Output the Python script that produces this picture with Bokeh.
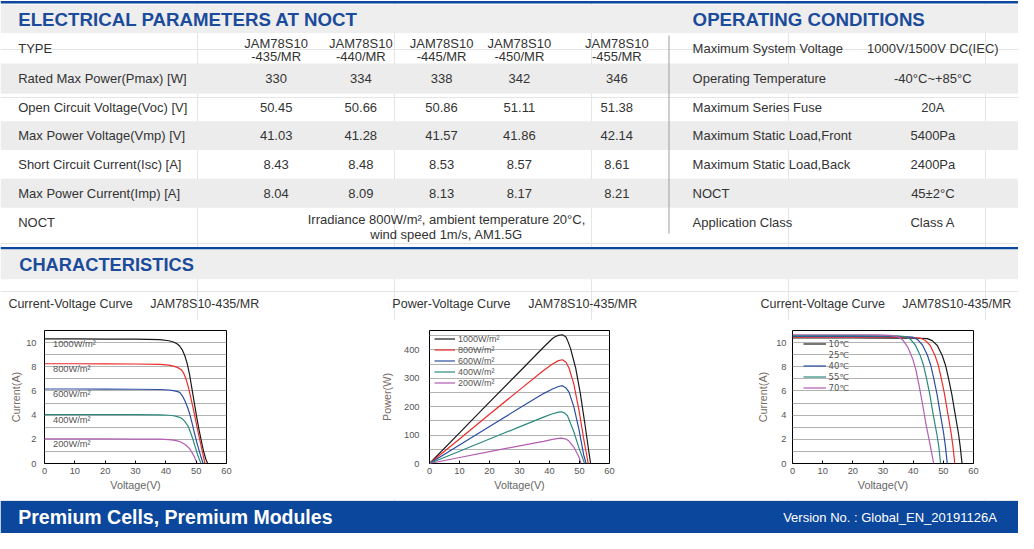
from bokeh.plotting import figure
from bokeh.models import ColumnDataSource, Range1d, FixedTicker, Legend, LegendItem
from bokeh.layouts import column, row
from bokeh.embed import file_html
from bokeh.resources import INLINE
from bokeh.core.properties import value

# ---------------- data ----------------
model_prefix = "JAM78S10"
model_suffixes = ["-435/MR", "-440/MR", "-445/MR", "-450/MR", "-455/MR"]
param_labels = ["Rated Max Power(Pmax) [W]", "Open Circuit Voltage(Voc) [V]",
                "Max Power Voltage(Vmp) [V]", "Short Circuit Current(Isc) [A]",
                "Max Power Current(Imp) [A]"]
pmax = ["330", "334", "338", "342", "346"]
voc = ["50.45", "50.66", "50.86", "51.11", "51.38"]
vmp = ["41.03", "41.28", "41.57", "41.86", "42.14"]
isc = ["8.43", "8.48", "8.53", "8.57", "8.61"]
imp = ["8.04", "8.09", "8.13", "8.17", "8.21"]
noct_text = ["Irradiance 800W/m\u00b2, ambient temperature 20\u00b0C,", "wind speed 1m/s, AM1.5G"]
cond_labels = ["Maximum System Voltage", "Operating Temperature", "Maximum Series Fuse",
               "Maximum Static Load,Front", "Maximum Static Load,Back", "NOCT", "Application Class"]
cond_values = ["1000V/1500V DC(IEC)", "-40\u00b0C~+85\u00b0C", "20A", "5400Pa", "2400Pa",
               "45\u00b12\u00b0C", "Class A"]
chart_titles = ["Current-Voltage Curve", "Power-Voltage Curve", "Current-Voltage Curve"]
chart_model = "JAM78S10-435/MR"

irr_labels = ["1000W/m\u00b2", "800W/m\u00b2", "600W/m\u00b2", "400W/m\u00b2", "200W/m\u00b2"]
temp_labels = ["10\u2103", "25\u2103", "40\u2103", "55\u2103", "70\u2103"]

# I-V by irradiance
iv1000_v = [0, 10, 20, 30, 38, 41, 42.5, 43.8, 44.6, 45.4, 46.2, 47.0, 47.8, 48.6, 49.4, 50.2, 51.1, 51.8, 52.5, 53.2, 53.8]
iv1000_i = [10.3, 10.3, 10.29, 10.28, 10.24, 10.15, 10.05, 9.88, 9.7, 9.4, 8.95, 8.3, 7.4, 6.2, 5.0, 3.8, 2.6, 1.75, 0.95, 0.35, 0]
iv800_v = [0, 10, 20, 30, 38, 41, 42.5, 43.8, 45.1, 45.9, 46.7, 47.5, 48.3, 49.2, 50.0, 50.8, 51.6, 52.3, 52.9]
iv800_i = [8.25, 8.25, 8.24, 8.23, 8.2, 8.13, 8.05, 7.95, 7.76, 7.45, 6.96, 6.25, 5.36, 4.35, 3.36, 2.4, 1.5, 0.7, 0]
iv600_v = [0, 10, 20, 30, 38, 41, 42.5, 43.6, 44.6, 45.4, 46.2, 47.0, 47.8, 48.6, 49.4, 50.2, 51.1, 51.7, 52.3]
iv600_i = [6.16, 6.16, 6.15, 6.14, 6.12, 6.08, 6.03, 5.97, 5.88, 5.62, 5.23, 4.75, 4.16, 3.4, 2.56, 1.75, 0.96, 0.45, 0]
iv400_v = [0, 10, 20, 30, 38, 41, 42.5, 43.8, 45.1, 46.2, 47.3, 48.1, 48.9, 49.7, 50.5, 51.1, 51.6]
iv400_i = [4.05, 4.05, 4.04, 4.04, 4.02, 3.99, 3.95, 3.88, 3.76, 3.5, 3.1, 2.6, 2.03, 1.35, 0.7, 0.3, 0]
iv200_v = [0, 10, 20, 30, 38, 41, 42.5, 43.8, 45.1, 46.5, 47.8, 48.6, 49.4, 49.9, 50.3]
iv200_i = [2.03, 2.03, 2.03, 2.02, 2.01, 1.98, 1.94, 1.87, 1.76, 1.55, 1.23, 0.92, 0.56, 0.27, 0]

# P-V by irradiance
pv1000_v = [0, 10, 20, 30, 38, 41, 42, 43, 44.3, 45.5, 46.2, 47, 48.7, 50.3, 51.9, 53, 53.7]
pv1000_p = [0, 108, 216, 323, 409, 440, 447, 451, 453, 445, 428, 405, 337, 245, 132, 50, 0]
pv800_v = [0, 10, 20, 30, 38, 41, 43, 44.3, 45.5, 46.5, 48.1, 49.8, 51.4, 52.9]
pv800_p = [0, 86, 173, 259, 327, 350, 362, 365, 356, 336, 280, 189, 87, 0]
pv600_v = [0, 10, 20, 30, 38, 41, 43, 44.3, 45.5, 46.5, 48.1, 49.8, 51.4, 52.2]
pv600_p = [0, 65, 130, 195, 246, 262, 271, 274, 266, 251, 200, 121, 30, 0]
pv400_v = [0, 10, 20, 30, 38, 41, 43, 44, 45, 46, 48.1, 49.8, 51.7]
pv400_p = [0, 43, 86, 129, 163, 175, 181, 182, 178, 168, 112, 55, 0]
pv200_v = [0, 10, 20, 30, 38, 41, 43, 44, 45.5, 46.5, 48.1, 49.8, 50.5]
pv200_p = [0, 21, 42, 62, 78, 85, 88.5, 89, 86, 79, 58, 24, 0]

# I-V by temperature
t10_v = [0, 20, 35, 42, 44.7, 46.3, 48.0, 49.6, 50.7, 51.7, 52.8, 53.9, 55.0, 55.6, 56.2]
t10_i = [10.38, 10.38, 10.37, 10.36, 10.33, 10.16, 9.76, 8.95, 8.15, 7.07, 5.73, 4.11, 2.5, 1.4, 0]
t25_v = [0, 20, 35, 39.6, 42.3, 43.9, 45.6, 47.2, 48.3, 49.3, 50.4, 51.5, 52.6, 53.2, 53.8]
t25_i = [10.45, 10.45, 10.43, 10.42, 10.38, 10.2, 9.78, 8.96, 8.15, 7.07, 5.73, 4.11, 2.5, 1.4, 0]
t40_v = [0, 20, 32, 37.2, 39.8, 41.4, 43.1, 44.7, 45.8, 46.8, 47.9, 49.0, 50.1, 50.7, 51.3]
t40_i = [10.52, 10.52, 10.5, 10.49, 10.45, 10.26, 9.8, 8.97, 8.15, 7.07, 5.73, 4.11, 2.5, 1.4, 0]
t55_v = [0, 20, 30, 34.8, 37.4, 39.0, 40.7, 42.3, 43.4, 44.4, 45.5, 46.6, 47.8, 48.5, 49.1]
t55_i = [10.58, 10.58, 10.56, 10.55, 10.5, 10.3, 9.8, 8.96, 8.15, 7.07, 5.73, 4.11, 2.5, 1.4, 0]
t70_v = [0, 20, 28, 32.4, 34.9, 36.6, 38.2, 39.8, 40.9, 42.0, 43.1, 44.2, 45.5, 46.8]
t70_i = [10.65, 10.65, 10.63, 10.6, 10.5, 10.2, 9.63, 8.69, 7.74, 6.4, 4.92, 3.31, 1.69, 0]

# ---------------- style ----------------
FONT = "Liberation Sans"
TITLE_BLUE = "#1b4b9b"
BAR_BLUE = "#0b479c"
TEXT = "#333333"
BAR_GRAY = "#eeeeee"
ROW_GRAY = "#ececec"
CURVE_COLORS = ["#1a1a1a", "#ee2b2b", "#2b4ea2", "#2a8a7f", "#b35db3"]

PAGE_W, PAGE_H = 1018, 533          # drawing area inside the 8px page margin
REF_W, REF_H = 1034.0, 549.0        # layout units (the sheet's own coordinates)
SY = PAGE_H / REF_H


def add_text(p, xs, ys, texts, size, color=TEXT, align="left", bold=False):
    src = ColumnDataSource(dict(x=xs, y=ys, t=texts))
    p.text(x="x", y="y", text="t", source=src, text_font=value(FONT),
           text_font_size=value(size), text_color=color, text_align=align,
           text_baseline="middle", text_font_style="bold" if bold else "normal")


def sheet(height_px, y_top):
    y_bot = y_top + height_px / SY
    p = figure(width=PAGE_W, height=height_px, x_range=Range1d(0, REF_W), y_range=Range1d(y_bot, y_top),
               output_backend="svg", toolbar_location=None, min_border=0,
               x_axis_location=None, y_axis_location=None)
    p.outline_line_color = None
    p.background_fill_color = "white"
    p.border_fill_color = "white"
    return p


# ---------------- top: tables ----------------
top = sheet(320, 0)
B = [33.5, 65, 96, 124.5, 154, 183.5, 213.5, 243]
gray_idx = [1, 3, 5]
top.quad(left=[0, 0, 0], right=[1034, 1034, 1034], top=[0.5, 4, 254],
         bottom=[3, 33.5, 256.5], fill_color=[BAR_BLUE, BAR_GRAY, BAR_BLUE], line_color=None)
top.quad(left=[0], right=[1034], top=[256.5], bottom=[287], fill_color=BAR_GRAY, line_color=None)
top.quad(left=[0] * 3, right=[1034] * 3, top=[B[i] for i in gray_idx],
         bottom=[B[i + 1] for i in gray_idx], fill_color=ROW_GRAY, line_color=None)
top.segment(x0=[679], y0=[36], x1=[679], y1=[240], line_color="#9c9c9c", line_width=1)

add_text(top, [18, 703], [19.5, 19.5], ["ELECTRICAL PARAMETERS AT NOCT", "OPERATING CONDITIONS"],
         "18.7px", TITLE_BLUE, bold=True)
add_text(top, [19], [271.5], ["CHARACTERISTICS"], "18.3px", TITLE_BLUE, bold=True)

centers = [(B[i] + B[i + 1]) / 2 for i in range(len(B) - 1)]
colx = [280, 366, 448, 527, 626]
FS = "13px"
add_text(top, [18], [centers[0]], ["TYPE"], FS)
add_text(top, colx, [44] * 5, [model_prefix] * 5, FS, align="center")
add_text(top, colx, [58] * 5, model_suffixes, FS, align="center")
add_text(top, [18] * 5, centers[1:6], param_labels, FS)
for k, vals in enumerate([pmax, voc, vmp, isc, imp]):
    add_text(top, colx, [centers[k + 1]] * 5, vals, FS, align="center")
add_text(top, [18], [centers[6]], ["NOCT"], FS)
add_text(top, [453, 453], [226, 241], noct_text, FS, align="center")
add_text(top, [703] * 7, centers, cond_labels, FS)
add_text(top, [947] * 7, centers, cond_values, FS, align="center")

add_text(top, [8, 398, 772], [313] * 3, chart_titles, "12.5px")
add_text(top, [152, 536, 916], [313] * 3, [chart_model] * 3, "12.5px")


# ---------------- charts ----------------
def make_chart(width, bl, br, ymax, yticks, ygrid, ylabel, ystand, ylabstand):
    p = figure(width=width, height=178, x_range=Range1d(0, 60), y_range=Range1d(0, ymax),
               output_backend="svg", toolbar_location=None,
               min_border_left=bl, min_border_right=br, min_border_top=10, min_border_bottom=35)
    p.background_fill_color = "white"
    p.border_fill_color = "white"
    p.outline_line_color = "#000000"
    p.outline_line_width = 1
    p.xgrid.visible = False
    p.ygrid.ticker = FixedTicker(ticks=ygrid)
    p.ygrid.grid_line_color = "#b3b3b3"
    p.ygrid.grid_line_width = 1
    p.xaxis.ticker = FixedTicker(ticks=[0, 10, 20, 30, 40, 50, 60])
    p.yaxis.ticker = FixedTicker(ticks=yticks)
    p.axis.axis_line_color = None
    p.axis.minor_tick_line_color = None
    p.xaxis.major_tick_in = 3
    p.xaxis.major_tick_out = 0
    p.xaxis.major_tick_line_color = "#000000"
    p.yaxis.major_tick_in = 0
    p.yaxis.major_tick_out = 0
    p.axis.major_label_text_font = FONT
    p.axis.major_label_text_font_size = "9.3px"
    p.axis.major_label_text_color = "#555555"
    p.axis.axis_label_text_font = FONT
    p.axis.axis_label_text_font_size = "10.8px"
    p.axis.axis_label_text_font_style = "normal"
    p.xaxis.axis_label = "Voltage(V)"
    p.xaxis.axis_label_text_color = "#666666"
    p.yaxis.axis_label = ylabel
    p.yaxis.axis_label_text_color = "#7a6c66"
    p.xaxis.major_label_standoff = 4
    p.xaxis.axis_label_standoff = 2
    p.yaxis.major_label_standoff = ystand
    p.yaxis.axis_label_standoff = ylabstand
    return p


# chart 1: I-V irradiance
c1 = make_chart(377, 44, 151, 11, [0, 2, 4, 6, 8, 10], list(range(1, 11)), "Current(A)", 8, 1)
iv_sets = [(iv1000_v, iv1000_i), (iv800_v, iv800_i), (iv600_v, iv600_i), (iv400_v, iv400_i), (iv200_v, iv200_i)]
for (vv, ii), col in zip(iv_sets, CURVE_COLORS):
    c1.line(vv, ii, line_color=col, line_width=1.2)
lab_src = ColumnDataSource(dict(x=[2.8] * 5, y=[s[1][0] - 0.45 for s in iv_sets], t=irr_labels))
c1.text(x="x", y="y", text="t", source=lab_src, text_font=value(FONT), text_font_size=value("9.3px"),
        text_color="#555555", text_align="left", text_baseline="middle")

# chart 2: P-V irradiance
c2 = make_chart(375, 50, 143, 468, [0, 100, 200, 300, 400], [50, 100, 150, 200, 250, 300, 350, 400, 450],
                "Power(W)", 10, 8)
pv_sets = [(pv1000_v, pv1000_p), (pv800_v, pv800_p), (pv600_v, pv600_p), (pv400_v, pv400_p), (pv200_v, pv200_p)]
items2 = []
for (vv, pp), col, lab in zip(pv_sets, CURVE_COLORS, irr_labels):
    r = c2.line(vv, pp, line_color=col, line_width=1.2)
    items2.append(LegendItem(label=lab, renderers=[r]))
leg2 = Legend(items=items2, location=(5, 75), label_text_font=FONT, label_text_font_size="9px",
              label_text_color="#555555", glyph_width=21, glyph_height=11, label_height=11,
              label_text_line_height=1.0,
              spacing=0, padding=0, margin=0, label_standoff=3,
              background_fill_alpha=0, border_line_color=None)
c2.add_layout(leg2)

# chart 3: I-V temperature
c3 = make_chart(266, 40, 45, 11, [0, 2, 4, 6, 8, 10], list(range(1, 11)), "Current(A)", 6, 4)
t_sets = [(t10_v, t10_i), (t25_v, t25_i), (t40_v, t40_i), (t55_v, t55_i), (t70_v, t70_i)]
items3 = []
for k, ((vv, ii), col, lab) in enumerate(zip(t_sets, CURVE_COLORS, temp_labels)):
    r = c3.line(vv, ii, line_color=col, line_width=1.2)
    if k == 1:
        # the reference legend shows this entry without a line sample
        r = c3.line([], [], line_color=col, line_alpha=0)
    items3.append(LegendItem(label=lab, renderers=[r]))
leg3 = Legend(items=items3, location=(10.5, 70), label_text_font="DejaVu Sans", label_text_font_size="8.5px",
              label_text_color="#555555", glyph_width=23, glyph_height=11, label_height=11,
              label_text_line_height=1.0,
              spacing=0, padding=0, margin=0, label_standoff=3,
              background_fill_alpha=0, border_line_color=None)
c3.add_layout(leg3)

# ---------------- footer ----------------
foot = sheet(35, 549 - 35 / SY)
foot.quad(left=[0], right=[1034], top=[515.5], bottom=[549], fill_color=BAR_BLUE, line_color=None)
add_text(foot, [18], [532.5], ["Premium Cells, Premium Modules"], "19.5px", "white", bold=True)
add_text(foot, [1012], [533], ["Version No. : Global_EN_20191126A"], "13px", "white", align="right")

layout = column(top, row(c1, c2, c3), foot)
open("out.html", "w").write(file_html(layout, INLINE))
